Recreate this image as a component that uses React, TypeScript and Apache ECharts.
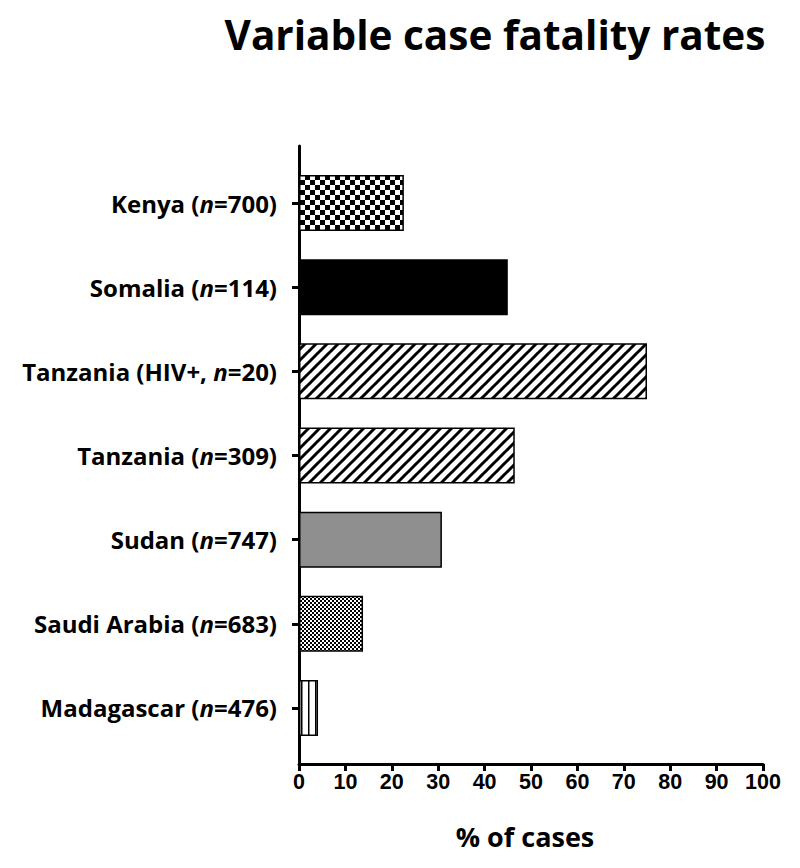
import React, { useEffect, useRef } from "react";
import * as echarts from "echarts";

const categories = [
  "Kenya|700",
  "Somalia|114",
  "Tanzania (HIV+, |20",
  "Tanzania|309",
  "Sudan|747",
  "Saudi Arabia|683",
  "Madagascar|476",
];
const values = [22.6, 45.0, 75.0, 46.5, 30.8, 13.8, 4.1];
const patternKinds = ["checker5", "black", "diag", "diag", "gray", "checker2", "vstripe"];
const xTicks = [0, 10, 20, 30, 40, 50, 60, 70, 80, 90, 100];

function makePattern(kind: string): any {
  if (kind === "black") return "#000000";
  if (kind === "gray") return "#8f8f8f";
  const c = document.createElement("canvas");
  let w = 10, h = 10;
  if (kind === "checker5") { w = 10; h = 10; }
  if (kind === "checker2") { w = 4; h = 4; }
  if (kind === "diag") { w = 11; h = 11; }
  if (kind === "vstripe") { w = 7; h = 4; }
  c.width = w; c.height = h;
  const ctx = c.getContext("2d")!;
  ctx.fillStyle = "#ffffff";
  ctx.fillRect(0, 0, w, h);
  ctx.fillStyle = "#000000";
  if (kind === "checker5" || kind === "checker2") {
    const s = w / 2;
    ctx.fillRect(0, 0, s, s);
    ctx.fillRect(s, s, s, s);
  } else if (kind === "diag") {
    ctx.strokeStyle = "#000000";
    ctx.lineWidth = 3;
    for (const o of [-w, 0, w]) {
      ctx.beginPath();
      ctx.moveTo(o - 1, h + 1);
      ctx.lineTo(o + w + 1, -1);
      ctx.stroke();
    }
  } else if (kind === "vstripe") {
    ctx.fillRect(0, 0, 1.5, h);
  }
  return { image: c, repeat: "repeat", imageWidth: w, imageHeight: h };
}

export default function App() {
  const ref = useRef<HTMLDivElement>(null);
  useEffect(() => {
    if (!ref.current) return;
    const chart = echarts.init(ref.current, null, { renderer: "svg" });
    const labelFont = "'Open Sans', Lato, sans-serif";
    chart.setOption({
      animation: false,
      backgroundColor: "#ffffff",
      title: {
        text: "Variable case fatality rates",
        left: 490,
        top: 9,
        textAlign: "center",
        textStyle: { fontFamily: labelFont, fontWeight: "bold", fontSize: 40.5, color: "#000" },
      },
      grid: [
        { left: 299, right: 37, top: 161, bottom: 118 },
        { left: 299, right: 37, top: 146, bottom: 104 },
      ],
      xAxis: [
        { gridIndex: 0, type: "value", min: 0, max: 100, show: false },
        {
          gridIndex: 1,
          type: "value",
          min: 0,
          max: 100,
          interval: 10,
          axisLine: { show: true, lineStyle: { color: "#000", width: 3 } },
          axisTick: { show: true, length: 7, lineStyle: { color: "#000", width: 3 } },
          splitLine: { show: false },
          axisLabel: {
            margin: 7,
            color: "#000",
            fontWeight: "bold",
            fontSize: 21.5,
            fontFamily: "'Liberation Sans', Arial, sans-serif",
            formatter: (v: number) => (xTicks.includes(v) ? String(v) : ""),
          },
          name: "% of cases",
          nameLocation: "middle",
          nameGap: 59,
          nameTextStyle: {
            color: "#000",
            fontWeight: "bold",
            fontSize: 27,
            fontFamily: labelFont,
            padding: [0, 12, 0, 0],
          },
        },
      ],
      yAxis: [
        {
          gridIndex: 0,
          type: "category",
          inverse: true,
          data: categories,
          axisLine: { show: false },
          axisTick: { show: true, length: 7, alignWithLabel: true, lineStyle: { color: "#000", width: 3 } },
          splitLine: { show: false },
          axisLabel: {
            margin: 22,
            color: "#000",
            fontWeight: "bold",
            fontSize: 24,
            fontFamily: labelFont,
            formatter: (v: string) => {
              const [name, n] = v.split("|");
              const pre = name.endsWith(" ") ? name : name + " (";
              return `${pre}{i|n}=${n})`;
            },
            rich: {
              i: { fontStyle: "italic", fontWeight: "bold", fontSize: 24, fontFamily: labelFont, color: "#000" },
            },
          },
        },
        {
          gridIndex: 1,
          type: "value",
          min: 0,
          max: 1,
          axisLine: { show: true, lineStyle: { color: "#000", width: 3 } },
          axisTick: { show: false },
          axisLabel: { show: false },
          splitLine: { show: false },
        },
      ],
      series: [
        {
          type: "bar",
          xAxisIndex: 0,
          yAxisIndex: 0,
          barWidth: 56,
          data: values.map((v, i) => ({
            value: v,
            itemStyle: {
              color: makePattern(patternKinds[i]),
              borderColor: "#000",
              borderWidth: 1.5,
            },
          })),
        },
      ],
    });
    return () => chart.dispose();
  }, []);
  return <div ref={ref} style={{ width: 800, height: 868, margin: -8 }} />;
}
